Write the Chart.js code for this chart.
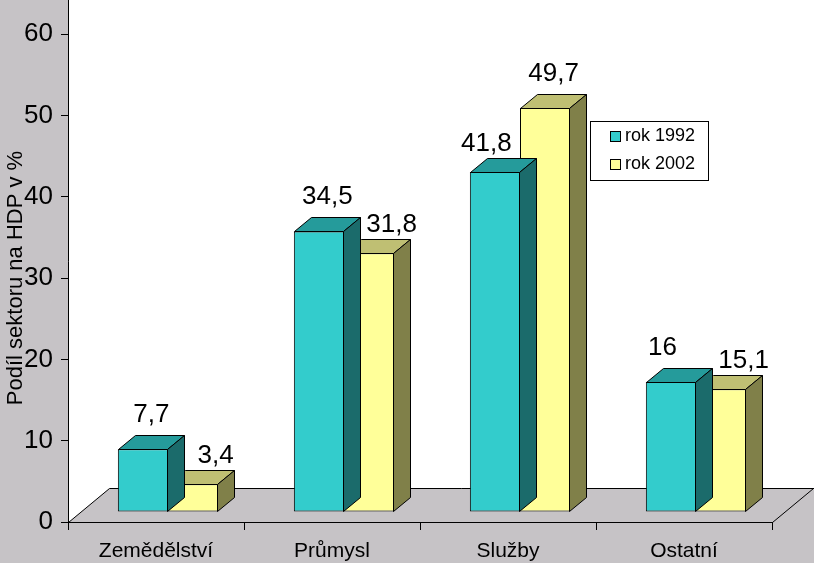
<!DOCTYPE html>
<html>
<head>
<meta charset="utf-8">
<script src="https://cdn.jsdelivr.net/npm/chart.js@4"></script>
<style>
html, body { margin: 0; padding: 0; background: #c6c3c6; }
</style>
</head>
<body>
<canvas id="myChart" width="814" height="563"></canvas>
<script>
// data
var categories = ['Zemědělství', 'Průmysl', 'Služby', 'Ostatní'];
var seriesNames = ['rok 1992', 'rok 2002'];
var values1992 = [7.7, 34.5, 41.8, 16];
var values2002 = [3.4, 31.8, 49.7, 15.1];
var yTicks = [0, 10, 20, 30, 40, 50, 60];
var yTitle = 'Podíl sektoru na HDP v %';

// colours: front, top, side
var faces = [
    ['#33cccc', '#259b9b', '#1b6b6b'],
    ['#ffff99', '#bfbf73', '#808049']
];
var BG = '#c6c3c6';
var FONT = 'Arial, "Liberation Sans", sans-serif';

// 3d offsets in pixels
var floorDepth = [41, -34];
var barShift = [12, -10];
var barDepth = [17, -14];

Chart.defaults.font.family = FONT;
Chart.defaults.color = '#000';

function poly(ctx, pts, fill) {
    ctx.beginPath();
    ctx.moveTo(pts[0][0], pts[0][1]);
    for (var i = 1; i < pts.length; i++) ctx.lineTo(pts[i][0], pts[i][1]);
    ctx.closePath();
    ctx.fillStyle = fill;
    ctx.fill();
    ctx.stroke();
}

// back wall + floor
var wallPlugin = {
    id: 'wall',
    beforeDraw: function(chart) {
        var ctx = chart.ctx;
        var x = chart.scales.x, y = chart.scales.y;
        var l = Math.round(x.left) + 0.5, r = Math.round(x.right) + 0.5;
        var f = Math.round(y.getPixelForValue(0)) + 0.5;
        var dx = floorDepth[0], dy = floorDepth[1];
        ctx.save();
        ctx.fillStyle = BG;
        ctx.fillRect(0, 0, chart.width, chart.height);
        ctx.fillStyle = '#fff';
        ctx.beginPath();
        ctx.moveTo(l, 0);
        ctx.lineTo(chart.width, 0);
        ctx.lineTo(chart.width, f + dy);
        ctx.lineTo(l + dx, f + dy);
        ctx.lineTo(l, f);
        ctx.closePath();
        ctx.fill();
        ctx.strokeStyle = '#000';
        ctx.lineWidth = 1;
        ctx.beginPath();
        ctx.moveTo(l, 0); ctx.lineTo(l, f);
        ctx.lineTo(r, f);
        ctx.moveTo(l, f); ctx.lineTo(l + dx, f + dy);
        ctx.lineTo(chart.width, f + dy);
        ctx.moveTo(r, f); ctx.lineTo(r + dx, f + dy);
        ctx.stroke();
        ctx.restore();
    }
};

// shift bars into the depth and add top / side faces
var bar3dPlugin = {
    id: 'bar3d',
    beforeDatasetDraw: function(chart, args) {
        chart.ctx.save();
        chart.ctx.translate(barShift[0], barShift[1]);
    },
    afterDatasetDraw: function(chart, args) {
        var ctx = chart.ctx;
        var cols = faces[args.index];
        var dx = barDepth[0], dy = barDepth[1];
        ctx.strokeStyle = '#000';
        ctx.lineWidth = 1;
        args.meta.data.forEach(function(el) {
            var p = el.getProps(['x', 'y', 'base', 'width'], true);
            var l = Math.round(p.x - p.width / 2) + 0.5;
            var r = Math.round(p.x + p.width / 2) - 0.5;
            var t = Math.round(p.y) + 0.5;
            var b = Math.round(p.base) - 0.5;
            poly(ctx, [[l, t], [r, t], [r + dx, t + dy], [l + dx, t + dy]], cols[1]);
            poly(ctx, [[r, t], [r + dx, t + dy], [r + dx, b + dy], [r, b]], cols[2]);
        });
        ctx.restore();
    }
};

// value labels and legend
var labelPlugin = {
    id: 'labels3d',
    afterDatasetsDraw: function(chart) {
        var ctx = chart.ctx;
        var d0 = chart.data.datasets[0].data, d1 = chart.data.datasets[1].data;
        ctx.save();
        ctx.fillStyle = '#000';
        ctx.font = '26px ' + FONT;
        ctx.textAlign = 'center';
        ctx.textBaseline = 'alphabetic';
        chart.data.datasets.forEach(function(ds, i) {
            chart.getDatasetMeta(i).data.forEach(function(el, j) {
                var p = el.getProps(['x', 'y'], true);
                var txt = String(ds.data[j]).replace('.', ',');
                // nudge labels away from the neighbouring bar / label
                var nx = 0, lift = 13;
                if (i === 1 && d0[j] >= d1[j]) { nx = 14; lift = 7; }
                if (i === 0 && (d1[j] > d0[j] || Math.abs(d0[j] - d1[j]) < 2)) { nx = -17; lift = 7; }
                if (i === 0 && d1[j] <= d0[j] && nx) lift = 13;
                ctx.fillText(txt, p.x + barShift[0] + barDepth[0] / 2 + nx,
                    p.y + barShift[1] + barDepth[1] - lift);
            });
        });
        // legend
        ctx.strokeStyle = '#000';
        ctx.lineWidth = 1;
        ctx.fillStyle = '#fff';
        ctx.fillRect(590.5, 121.5, 118, 59);
        ctx.strokeRect(590.5, 121.5, 118, 59);
        ctx.font = '18px ' + FONT;
        ctx.textAlign = 'left';
        chart.data.datasets.forEach(function(ds, i) {
            var yy = 131 + i * 27.5;
            ctx.fillStyle = ds.backgroundColor;
            ctx.fillRect(610.5, Math.round(yy) + 0.5, 10, 10);
            ctx.strokeRect(610.5, Math.round(yy) + 0.5, 10, 10);
            ctx.fillStyle = '#000';
            ctx.fillText(ds.label, 625, yy + 10);
        });
        ctx.restore();
    }
};

var ctx = document.getElementById('myChart').getContext('2d');
var chart = new Chart(ctx, {
    type: 'bar',
    data: {
        labels: categories,
        datasets: [{
            label: seriesNames[0],
            data: values1992,
            backgroundColor: faces[0][0],
            borderColor: '#000',
            borderWidth: 1,
            borderSkipped: false
        }, {
            label: seriesNames[1],
            data: values2002,
            backgroundColor: faces[1][0],
            borderColor: '#000',
            borderWidth: 1,
            borderSkipped: false
        }]
    },
    options: {
        responsive: false,
        animation: false,
        devicePixelRatio: 1,
        layout: { padding: { top: 34, right: 42, left: 0, bottom: 0 } },
        datasets: { bar: { barPercentage: 1, categoryPercentage: 0.57, clip: false, inflateAmount: 0 } },
        plugins: {
            legend: { display: false },
            tooltip: { enabled: false }
        },
        scales: {
            x: {
                grid: { drawOnChartArea: false, drawTicks: true, tickLength: 8, color: '#000' },
                border: { display: false },
                ticks: { font: { size: 21 }, color: '#000', padding: 9 },
                afterFit: function(s) { s.height = 41; }
            },
            y: {
                min: 0,
                max: 60,
                afterBuildTicks: function(s) {
                    s.ticks = yTicks.map(function(v) { return { value: v }; });
                },
                grid: { drawOnChartArea: false, drawTicks: true, tickLength: 7, color: '#000' },
                border: { display: false },
                ticks: { font: { size: 26 }, color: '#000', padding: 8 },
                title: {
                    display: true,
                    text: yTitle,
                    font: { size: 22 },
                    color: '#000',
                    padding: { top: 3, bottom: 0 }
                },
                afterFit: function(s) { s.width = 68; }
            }
        }
    },
    plugins: [wallPlugin, bar3dPlugin, labelPlugin]
});
</script>
</body>
</html>
